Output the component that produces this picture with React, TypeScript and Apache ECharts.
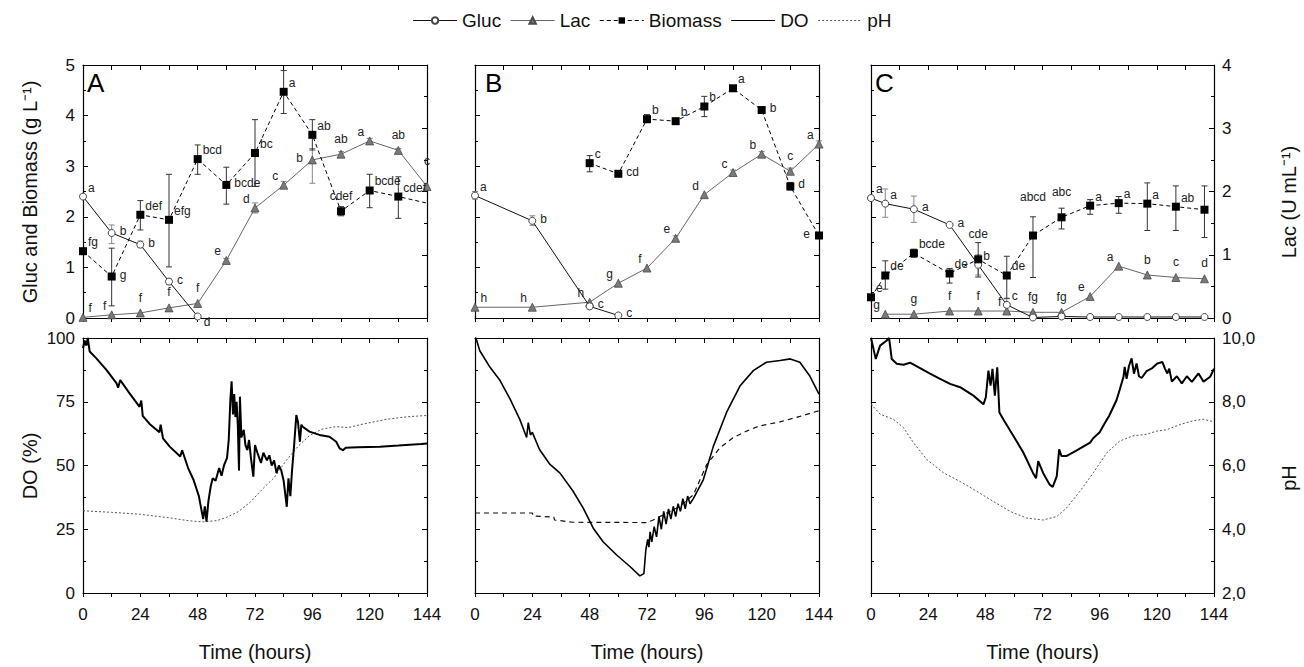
import React, { useEffect, useRef } from 'react';
import * as echarts from 'echarts';

const FONT = '"Liberation Sans", Arial, Helvetica, sans-serif';

// ---------------- Panel A (top) ----------------
const glucTimesA = [0, 12, 24, 36, 48];
const glucA = [2.40, 1.68, 1.45, 0.72, 0.03];
const glucLoA = [null, 1.47, 1.39, 0.66, null];
const glucHiA = [null, 1.84, 1.52, 0.77, null];
const glucLetA = ['a', 'b', 'b', 'c', 'd'];
const glucPosA = ['tr', 'r', 'r', 'r', 'br'];

const lacTimesA = [0, 12, 24, 36, 48, 60, 72, 84, 96, 108, 120, 132, 144];
const lacA = [0.01, 0.05, 0.08, 0.16, 0.23, 0.91, 1.74, 2.10, 2.50, 2.59, 2.80, 2.65, 2.08];
const lacLoA = [null, null, null, null, null, 0.88, 1.66, 2.05, 2.13, 2.55, 2.76, 2.62, null];
const lacHiA = [null, null, null, null, null, 0.94, 1.82, 2.16, 2.68, 2.63, 2.84, 2.68, null];
const lacLetA = ['f', 'f', 'f', 'f', 'f', 'e', 'd', 'c', 'b', 'ab', 'a', 'ab', 'c'];
const lacPosA = ['tr', 'tl', 't', 't', 't', 'tl', 'tl', 'tl', 'l', 't', 'tl', 't', 't2'];

const bioTimesA = [0, 12, 24, 36, 48, 60, 72, 84, 96, 108, 120, 132, 144];
const bioA = [1.32, 0.82, 2.04, 1.94, 3.14, 2.63, 3.26, 4.47, 3.62, 2.11, 2.52, 2.40, 2.27];
const bioLoA = [null, 0.24, 1.74, 1.01, 2.84, 2.25, 2.60, 4.04, 3.32, 2.02, 2.18, 1.97, null];
const bioHiA = [null, 1.38, 2.32, 2.84, 3.42, 2.98, 3.92, 4.89, 3.92, 2.20, 2.84, 2.79, null];
const bioLetA = ['fg', 'g', 'def', 'efg', 'bcd', 'bcde', 'bc', 'a', 'ab', 'cdef', 'bcde', 'cdef', ''];
const bioPosA = ['tr', 'r', 'tr', 'tr', 'tr', 'r', 'tr', 'tr', 'tr', 't', 'tr', 'tr', 'x'];

// ---------------- Panel B (top) ----------------
const glucTimesB = [0, 24, 48, 60];
const glucB = [2.42, 1.92, 0.23, 0.05];
const glucLoB = [2.35, 1.83, 0.18, null];
const glucHiB = [2.50, 2.02, 0.28, null];
const glucLetB = ['a', 'b', 'c', 'c'];
const glucPosB = ['tr', 'r', 'r', 'r'];

const lacTimesB = [0, 24, 48, 60, 72, 84, 96, 108, 120, 132, 144];
const lacB = [0.17, 0.17, 0.25, 0.55, 0.79, 1.26, 1.95, 2.30, 2.59, 2.32, 2.75];
const lacLoB = [null, null, null, null, null, 1.22, null, 2.26, 2.55, 2.27, 2.70];
const lacHiB = [null, null, null, null, null, 1.30, null, 2.34, 2.63, 2.37, 2.80];
const lacLetB = ['h', 'h', 'h', 'g', 'f', 'e', 'd', 'c', 'b', 'c', 'a'];
const lacPosB = ['tr', 'tl', 'tl', 'tl', 'tl', 'tl', 'tl', 'tl', 'tl', 't', 'tl'];

const bioTimesB = [48, 60, 72, 84, 96, 108, 120, 132, 144];
const bioB = [3.06, 2.85, 3.93, 3.89, 4.18, 4.54, 4.11, 2.60, 1.63];
const bioLoB = [2.89, null, 3.86, null, 3.98, null, null, 2.53, null];
const bioHiB = [3.21, null, 4.02, null, 4.38, null, null, 2.68, null];
const bioLetB = ['c', 'cd', 'b', 'b', 'b', 'a', 'b', 'd', 'e'];
const bioPosB = ['tr', 'r', 'tr', 'tr', 'tr', 'tr', 'r', 'r', 'l'];

// ---------------- Panel C (top) ----------------
const glucTimesC = [0, 6, 18, 33, 45, 57, 68, 80, 92, 104, 116, 128, 140];
const glucC = [2.37, 2.26, 2.15, 1.84, 1.05, 0.26, 0.01, 0.03, 0.02, 0.02, 0.02, 0.02, 0.02];
const glucLoC = [null, 1.99, 1.89, null, 0.85, 0.12, null, null, null, null, null, null, null];
const glucHiC = [null, 2.55, 2.41, null, 1.25, 0.38, null, null, null, null, null, null, null];
const glucLetC = ['a', 'a', 'a', 'a', 'b', 'c', '', '', '', '', '', '', ''];
const glucPosC = ['tr', 'tr', 'r', 'r', 'tr', 'tr', '', '', '', '', '', '', ''];

const lacTimesC = [6, 18, 33, 45, 57, 68, 80, 92, 104, 116, 128, 140];
const lacC = [0.06, 0.06, 0.11, 0.11, 0.11, 0.09, 0.09, 0.34, 0.82, 0.68, 0.64, 0.62];
const lacLetC = ['g', 'g', 'f', 'f', 'f', 'fg', 'fg', 'e', 'a', 'b', 'c', 'd'];
const lacPosC = ['tl', 't', 't', 't', 'tl', 't', 't', 'tl', 'tl', 't', 't', 't'];

const bioTimesC = [0, 6, 18, 33, 45, 57, 68, 80, 92, 104, 116, 128, 140];
const bioC = [0.41, 0.84, 1.28, 0.88, 1.16, 0.84, 1.63, 1.99, 2.22, 2.27, 2.26, 2.20, 2.14];
const bioLoC = [null, 0.57, 1.20, 0.69, 0.81, 0.39, 0.80, 1.76, 2.05, 2.07, 1.73, 1.73, 1.59];
const bioHiC = [null, 1.13, 1.36, 0.98, 1.49, 1.22, 2.00, 2.17, 2.34, 2.40, 2.67, 2.61, 2.61];
const bioLetC = ['e', 'de', 'bcde', 'de', 'cde', 'de', 'abcd', 'abc', 'a', 'a', 'a', 'ab', ''];
const bioPosC = ['tr', 'tr', 'tr', 'tr', 't2', 'tr', 'T', 't2', 'tr', 'tr', 'tr', 'tr', ''];

// ---------------- Bottom panels: DO (%) and pH ----------------
const doA = [[0,96],[0.7,99],[1.4,97],[2,100],[2.8,94.7],[5.6,92],[9.8,87.5],[14,82.3],[14.7,80.5],[15.6,83.5],[19.5,78.3],[23.7,73],[24.4,75.5],[25,69.5],[27.9,66.3],[32,63],[32.5,66],[33.5,60.6],[36.3,57.4],[40.7,53.5],[41.5,56],[44,49],[46.3,44.3],[48.5,38],[49.5,33],[50.3,29],[51,34],[51.7,28],[52.5,36],[53.5,42],[54.3,45],[55.5,44],[57,49],[58,46],[59,50],[60.3,53],[61,60],[61.7,76],[62.2,83],[62.8,70],[63.3,78],[63.8,69],[64.3,75],[64.8,66],[65.3,48],[65.7,77],[66.3,61],[67.3,64],[68,58],[68.8,56],[69.5,60],[70.3,53],[71.3,45.6],[72,58],[73,55],[74.5,51],[75.5,55],[77,52],[78,54],[79,50],[80,52],[81,47],[82,50],[83,48],[84,44],[85.3,33.8],[86,45],[86.8,38],[87.5,48],[88.3,57],[89.3,69.8],[90,67],[90.8,59.3],[91.4,66],[92,65.2],[94.8,63.3],[99,62],[103.2,61.3],[106,59.3],[107.4,56.7],[108.8,56],[110,57],[115,57.2],[124.3,57.4],[132,57.8],[141.6,58.4],[144,58.6]];
const phA = [[0,4.58],[12,4.53],[24,4.47],[36,4.36],[44,4.27],[50,4.23],[56,4.27],[60,4.37],[65,4.55],[70,4.85],[75,5.25],[80,5.62],[85,6.15],[90,6.6],[95,6.95],[100,7.14],[106,7.22],[111,7.19],[116,7.28],[127,7.45],[136,7.53],[144,7.57]];

const doB = [[0,100],[0.4,100],[2,95],[6.3,88.5],[10.5,83.3],[14.7,76],[18.8,68],[21.6,61],[22.3,66.8],[23.2,62],[24,63],[27,56.3],[31.4,50.4],[35.6,47],[41,40],[45.3,33.3],[49.5,25.4],[53.7,20],[59.3,14.9],[65,10.3],[69,6.7],[70.7,7.6],[71.5,16.8],[72.3,21],[72.8,18],[73.3,24],[74,20],[75,26],[76,22],[77,30],[78,25],[79,32],[80,27],[81,33],[82,29],[83,34],[84,30],[85,35],[86,32],[87,37],[88,33],[89,38],[90,35],[91.4,37],[95.6,44.5],[99.8,57.6],[105.3,70.8],[111,81.3],[116.5,87.2],[122,90.5],[127.7,91.2],[132,91.8],[136,90.5],[140,85.3],[144,78]];
const phB = [[0,4.51],[24,4.51],[24.3,4.42],[33,4.38],[33.3,4.29],[41,4.22],[72,4.21],[74.6,4.29],[80,4.5],[85.8,4.72],[91.4,5.08],[97,6.03],[102.6,6.56],[108,6.87],[113.7,7.08],[119,7.24],[127.7,7.37],[136,7.54],[144,7.72]];

const doC = [[0,100],[1.7,93],[2,91.8],[3.8,97],[6.6,99],[7.6,100],[8.7,91.8],[10.8,89.9],[13.6,89.5],[16.4,90.3],[20.6,88.2],[24.8,86],[29,84],[33.2,82],[37.4,80.7],[43,77.4],[47.2,74],[48.2,76.7],[49.3,87.2],[50.2,81.3],[51,87.9],[52,77.4],[53,88.5],[53.9,70.8],[55.6,68],[59.8,61.6],[64,55],[68,47.1],[69.3,45],[70.2,51.7],[72.3,47],[75,42.5],[76.3,41.6],[78,45.8],[79,56.3],[80,53.7],[82,53.7],[86,55.7],[92,59],[93.3,60.7],[96,63],[98.9,67.8],[100,69.5],[103.1,75.7],[104.5,80],[106,84.8],[106.5,88.7],[107.3,84],[108.3,89],[109.4,92],[110.4,86],[111.5,90],[112.5,85],[113.6,84.3],[115.7,87],[118.1,88.2],[120.2,90],[122.3,90.6],[123.4,88],[124.4,86.1],[125.2,88],[126.3,82.9],[128.4,85],[130.5,82.2],[132.6,85],[134.7,82.8],[137.5,86.1],[139.6,82.9],[142.4,84.8],[144,88]];
const phC = [[0,7.93],[3.8,7.61],[9.4,7.45],[13.6,7.19],[17.8,6.72],[23.4,6.19],[30.4,5.77],[37.4,5.5],[44.4,5.19],[51.4,4.87],[58.4,4.56],[65.4,4.35],[72.3,4.29],[78,4.4],[82,4.66],[87.7,5.19],[93.3,5.77],[99,6.4],[104.5,6.77],[110,6.93],[115.7,6.98],[120,7.08],[124,7.12],[130,7.29],[135,7.4],[139.5,7.45],[144,7.37]];

const xTicks = [0, 24, 48, 72, 96, 120, 144];
const panelLetters = ['A', 'B', 'C'];
const legendNames = ['Gluc', 'Lac', 'Biomass', 'DO', 'pH'];

// ---------------- helpers ----------------
const POS: Record<string, any> = {
  tr: { position: 'right', offset: [-4, -9] },
  r: { position: 'right', offset: [-1, -2] },
  br: { position: 'right', offset: [-3, 6] },
  t: { position: 'top', offset: [0, 0] },
  t2: { position: 'top', offset: [0, -10] },
  T: { position: 'top', offset: [0, -24] },
  tl: { position: 'left', offset: [4, -9] },
  l: { position: 'left', offset: [0, -2] },
};

const LABEL_TEXT = { fontSize: 12, color: '#222', fontFamily: FONT };

function points(times: number[], vals: number[], letters: string[], pos: string[]) {
  return times.map((t, i) => {
    const item: any = { value: [t, vals[i]] };
    const p = pos[i];
    if (p === 'x') item.symbol = 'none';
    if (letters[i]) item.label = { show: true, formatter: letters[i], ...LABEL_TEXT, ...(POS[p] || POS.tr) };
    return item;
  });
}

function errData(times: number[], lo: (number | null)[], hi: (number | null)[]) {
  const out: number[][] = [];
  times.forEach((t, i) => {
    if (lo[i] != null && hi[i] != null) out.push([t, lo[i] as number, hi[i] as number]);
  });
  return out;
}

function errSeries(data: number[][], xi: number, yi: number, color: string) {
  return {
    type: 'custom',
    xAxisIndex: xi,
    yAxisIndex: yi,
    data,
    silent: true,
    z: 2,
    clip: false,
    renderItem: (_p: any, api: any) => {
      const x = api.value(0);
      const a = api.coord([x, api.value(1)]);
      const b = api.coord([x, api.value(2)]);
      const w = 3;
      const style = { stroke: color, lineWidth: 1 };
      return {
        type: 'group',
        children: [
          { type: 'line', shape: { x1: a[0], y1: a[1], x2: b[0], y2: b[1] }, style },
          { type: 'line', shape: { x1: a[0] - w, y1: a[1], x2: a[0] + w, y2: a[1] }, style },
          { type: 'line', shape: { x1: b[0] - w, y1: b[1], x2: b[0] + w, y2: b[1] }, style },
        ],
      };
    },
  };
}

const labelBase = { show: false, ...LABEL_TEXT };

function glucSeries(data: any[], xi: number, yi: number) {
  return {
    name: 'Gluc', type: 'line', xAxisIndex: xi, yAxisIndex: yi, data, z: 4,
    symbol: 'circle', symbolSize: 7,
    itemStyle: { color: '#fff', borderColor: '#444', borderWidth: 1 },
    lineStyle: { color: '#111', width: 1 },
    label: labelBase,
  };
}
function lacSeries(data: any[], xi: number, yi: number) {
  return {
    name: 'Lac', type: 'line', xAxisIndex: xi, yAxisIndex: yi, data, z: 3,
    symbol: 'triangle', symbolSize: 8,
    itemStyle: { color: '#7a7a7a', borderColor: '#4a4a4a', borderWidth: 0.8 },
    lineStyle: { color: '#666', width: 1 },
    label: labelBase,
  };
}
function bioSeries(data: any[], xi: number, yi: number) {
  return {
    name: 'Biomass', type: 'line', xAxisIndex: xi, yAxisIndex: yi, data, z: 5,
    symbol: 'rect', symbolSize: 8,
    itemStyle: { color: '#000' },
    lineStyle: { color: '#000', width: 1, type: [4, 3] },
    label: labelBase,
  };
}
function doSeries(data: number[][], xi: number, yi: number, width: number) {
  return {
    name: 'DO', type: 'line', xAxisIndex: xi, yAxisIndex: yi, data, z: 4,
    symbol: 'none', showSymbol: false,
    itemStyle: { color: 'rgba(0,0,0,0)', borderColor: 'rgba(0,0,0,0)' },
    lineStyle: { color: '#000', width },
  };
}
function phSeries(data: number[][], xi: number, yi: number, dashed: boolean) {
  return {
    name: 'pH', type: 'line', xAxisIndex: xi, yAxisIndex: yi, data, z: 3,
    symbol: 'none', showSymbol: false,
    itemStyle: { color: 'rgba(0,0,0,0)', borderColor: 'rgba(0,0,0,0)' },
    lineStyle: dashed ? { color: '#111', width: 1.2, type: [5, 4] } : { color: '#555', width: 1, type: [2, 2] },
  };
}

function buildOption() {
  const lefts = [83, 475, 871];
  const widths = [344, 344, 343];
  const grids: any[] = [];
  const xAxes: any[] = [];
  const yAxes: any[] = [];
  const axisLine = { show: true, onZero: false, lineStyle: { color: '#000', width: 1.2 } };
  const tickStyle = { color: '#000', width: 1 };
  const labelStyle = { fontSize: 17, color: '#111', fontFamily: FONT };

  for (let row = 0; row < 2; row++) {
    for (let col = 0; col < 3; col++) {
      const gi = row * 3 + col;
      grids.push({ left: lefts[col], width: widths[col], top: row === 0 ? 65 : 338, height: row === 0 ? 253 : 255 });
      xAxes.push({
        gridIndex: gi, type: 'value', min: 0, max: 144, interval: 24, position: 'bottom',
        axisLine, splitLine: { show: false },
        axisTick: { show: true, inside: false, length: 4, lineStyle: tickStyle },
        minorTick: { show: true, splitNumber: 2, length: 4, lineStyle: tickStyle },
        axisLabel: { show: row === 1, margin: 13, ...labelStyle, formatter: (v: number) => (xTicks.includes(v) ? String(v) : '') },
        name: row === 1 ? 'Time (hours)' : '', nameLocation: 'middle', nameGap: 49,
        nameTextStyle: { fontSize: 20, color: '#111', fontFamily: FONT },
      });
      xAxes.push({
        gridIndex: gi, type: 'value', min: 0, max: 144, interval: 12, position: 'top',
        axisLine, splitLine: { show: false },
        axisTick: { show: true, inside: true, length: 5, lineStyle: tickStyle },
        axisLabel: { show: false },
      });
      yAxes.push({
        gridIndex: gi, type: 'value', position: 'left',
        min: 0, max: row === 0 ? 5 : 100, interval: row === 0 ? 1 : 25,
        axisLine, splitLine: { show: false },
        axisTick: { show: true, inside: true, length: 5, lineStyle: tickStyle },
        minorTick: { show: true, splitNumber: 2, length: 3, lineStyle: tickStyle },
        axisLabel: { show: col === 0, margin: 8, ...labelStyle },
      });
      yAxes.push({
        gridIndex: gi, type: 'value', position: 'right',
        min: row === 0 ? 0 : 2, max: row === 0 ? 4 : 10, interval: row === 0 ? 1 : 2,
        axisLine, splitLine: { show: false },
        axisTick: { show: true, inside: true, length: 5, lineStyle: tickStyle },
        minorTick: { show: true, splitNumber: 2, length: 3, lineStyle: tickStyle },
        axisLabel: {
          show: col === 2, margin: 8, ...labelStyle,
          formatter: row === 0 ? (v: number) => String(v) : (v: number) => v.toFixed(1).replace('.', ','),
        },
      });
    }
  }

  const top = [
    { g: [glucTimesA, glucA, glucLoA, glucHiA, glucLetA, glucPosA], l: [lacTimesA, lacA, lacLoA, lacHiA, lacLetA, lacPosA], b: [bioTimesA, bioA, bioLoA, bioHiA, bioLetA, bioPosA] },
    { g: [glucTimesB, glucB, glucLoB, glucHiB, glucLetB, glucPosB], l: [lacTimesB, lacB, lacLoB, lacHiB, lacLetB, lacPosB], b: [bioTimesB, bioB, bioLoB, bioHiB, bioLetB, bioPosB] },
    { g: [glucTimesC, glucC, glucLoC, glucHiC, glucLetC, glucPosC], l: [lacTimesC, lacC, [], [], lacLetC, lacPosC], b: [bioTimesC, bioC, bioLoC, bioHiC, bioLetC, bioPosC] },
  ] as any[];

  const series: any[] = [];
  top.forEach((p, col) => {
    const gi = col;
    const xi = 2 * gi, yl = 2 * gi, yr = 2 * gi + 1;
    series.push(errSeries(errData(p.g[0], p.g[2], p.g[3]), xi, yl, '#888'));
    series.push(errSeries(errData(p.l[0], p.l[2], p.l[3]), xi, yr, '#888'));
    series.push(errSeries(errData(p.b[0], p.b[2], p.b[3]), xi, yl, '#333'));
    series.push(lacSeries(points(p.l[0], p.l[1], p.l[4], p.l[5]), xi, yr));
    series.push(glucSeries(points(p.g[0], p.g[1], p.g[4], p.g[5]), xi, yl));
    series.push(bioSeries(points(p.b[0], p.b[1], p.b[4], p.b[5]), xi, yl));
  });

  const bottom = [
    { d: doA, p: phA, w: 2, dashed: false },
    { d: doB, p: phB, w: 1.6, dashed: true },
    { d: doC, p: phC, w: 2, dashed: false },
  ];
  bottom.forEach((b, col) => {
    const gi = 3 + col;
    series.push(doSeries(b.d, 2 * gi, 2 * gi, b.w));
    series.push(phSeries(b.p, 2 * gi, 2 * gi + 1, b.dashed));
  });

  const graphic: any[] = [];
  const letterX = [87, 485, 875];
  panelLetters.forEach((t, i) => {
    graphic.push({ type: 'text', x: letterX[i], y: 83, style: { text: t, fontSize: 26, fontFamily: FONT, fill: '#000', align: 'left', verticalAlign: 'middle' } });
  });
  const axisTitle = (text: string, x: number, y: number) => ({
    type: 'text', x, y, rotation: Math.PI / 2,
    style: { text, fontSize: 20, fontFamily: FONT, fill: '#111', align: 'center', verticalAlign: 'middle' },
  });
  graphic.push(axisTitle('Gluc and Biomass (g L\u207B\u00B9)', 30, 192));
  graphic.push(axisTitle('DO (%)', 30, 466));
  graphic.push(axisTitle('Lac (U mL\u207B\u00B9)', 1289, 202));
  graphic.push(axisTitle('pH', 1289, 478));

  return {
    animation: false,
    backgroundColor: '#fff',
    textStyle: { fontFamily: FONT },
    legend: {
      data: legendNames, top: 6, left: 'center', selectedMode: false,
      itemWidth: 44, itemHeight: 8, itemGap: 9,
      textStyle: { fontSize: 19, color: '#111', fontFamily: FONT },
      lineStyle: { width: 1 },
    },
    grid: grids,
    xAxis: xAxes,
    yAxis: yAxes,
    series,
    graphic,
  };
}

export default function App() {
  const ref = useRef<HTMLDivElement>(null);
  useEffect(() => {
    const chart = echarts.init(ref.current as HTMLDivElement, null, { renderer: 'svg' });
    chart.setOption(buildOption() as any);
    return () => chart.dispose();
  }, []);
  return <div ref={ref} style={{ position: 'absolute', left: 0, top: 0, width: 1304, height: 667, background: '#fff' }} />;
}
